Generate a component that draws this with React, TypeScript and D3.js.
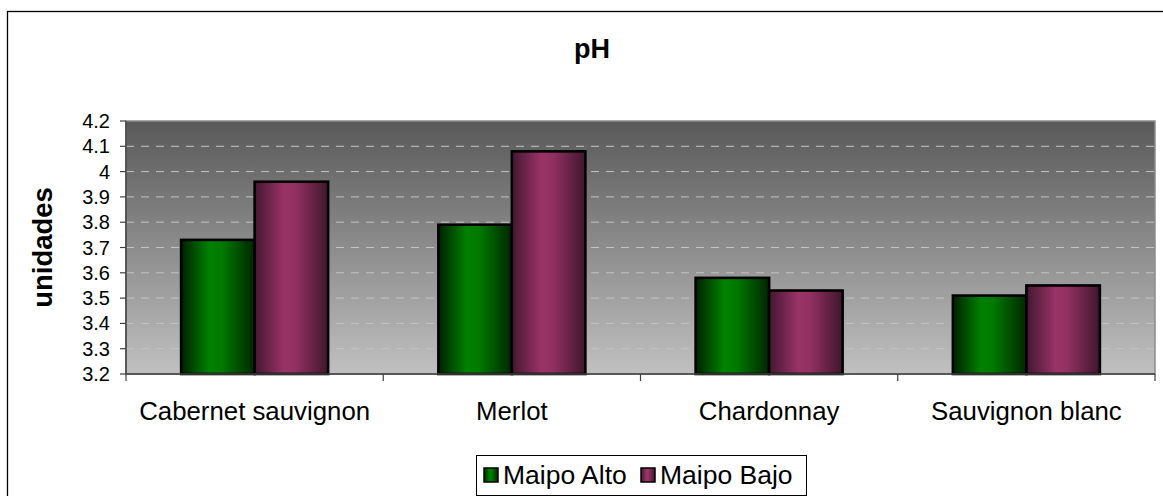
import React, { useRef, useEffect } from 'react';
import { select, scaleBand, scaleLinear } from 'd3';

// chart data
const categories = ['Cabernet sauvignon', 'Merlot', 'Chardonnay', 'Sauvignon blanc'];
const seriesNames = ['Maipo Alto', 'Maipo Bajo'];
const maipoAlto = [3.73, 3.79, 3.58, 3.51];
const maipoBajo = [3.96, 4.08, 3.53, 3.55];
const yTicks = [3.2, 3.3, 3.4, 3.5, 3.6, 3.7, 3.8, 3.9, 4.0, 4.1, 4.2];
const chartTitle = 'pH';
const yTitle = 'unidades';

const W = 1163;
const H = 496;
const plot = { left: 126, right: 1155, top: 121, bottom: 374 };
const FONT = '"Liberation Sans", Arial, sans-serif';
const gradIds = ['gAlto', 'gBajo'];

const App = () => {
  const svgRef = useRef<SVGSVGElement>(null);

  useEffect(() => {
    const svg = select(svgRef.current);
    const x0 = scaleBand<string>().domain(categories).range([plot.left, plot.right]);
    const x1 = scaleBand<string>().domain(seriesNames).range([0, x0.step()]).paddingOuter(0.75);
    const y = scaleLinear().domain([3.2, 4.2]).range([plot.bottom, plot.top]);

    // grid lines (dashed)
    svg.select('.grid')
      .selectAll('line')
      .data(yTicks.slice(1, -1))
      .join('line')
      .attr('x1', plot.left)
      .attr('x2', plot.right)
      .attr('y1', d => y(d))
      .attr('y2', d => y(d))
      .attr('stroke', '#c4c4c4')
      .attr('stroke-width', 1)
      .attr('stroke-dasharray', '8 7');

    // bars
    const rows = categories.map((c, i) => ({ c, vals: [maipoAlto[i], maipoBajo[i]] }));
    svg.select('.bars')
      .selectAll('g')
      .data(rows)
      .join('g')
      .attr('transform', d => `translate(${x0(d.c)},0)`)
      .selectAll('rect')
      .data(d => d.vals.map((v, k) => ({ name: seriesNames[k], v, k })))
      .join('rect')
      .attr('x', d => x1(d.name)!)
      .attr('width', x1.bandwidth())
      .attr('y', d => y(d.v))
      .attr('height', d => plot.bottom - y(d.v))
      .attr('fill', d => `url(#${gradIds[d.k]})`)
      .attr('stroke', '#000')
      .attr('stroke-width', 2.6);

    // y axis
    const yAx = svg.select('.y-axis');
    yAx.selectAll('line.tick')
      .data(yTicks)
      .join('line')
      .attr('class', 'tick')
      .attr('x1', plot.left - 6)
      .attr('x2', plot.left)
      .attr('y1', d => y(d))
      .attr('y2', d => y(d))
      .attr('stroke', '#404040')
      .attr('stroke-width', 1.2);
    yAx.selectAll('text')
      .data(yTicks)
      .join('text')
      .attr('x', plot.left - 16)
      .attr('y', d => y(d))
      .attr('dy', '0.35em')
      .attr('text-anchor', 'end')
      .attr('font-size', 20)
      .attr('font-family', FONT)
      .text(d => String(d));

    // x axis boundary ticks + labels
    const xAx = svg.select('.x-axis');
    xAx.selectAll('line.tick')
      .data([...categories.map(c => x0(c)!), plot.right])
      .join('line')
      .attr('class', 'tick')
      .attr('x1', d => d)
      .attr('x2', d => d)
      .attr('y1', plot.bottom)
      .attr('y2', plot.bottom + 7)
      .attr('stroke', '#404040')
      .attr('stroke-width', 1.2);
    xAx.selectAll('text')
      .data(categories)
      .join('text')
      .attr('x', d => x0(d)! + x0.bandwidth() / 2)
      .attr('y', 420)
      .attr('text-anchor', 'middle')
      .attr('font-size', 25.8)
      .attr('font-family', FONT)
      .text(d => d);
  }, []);

  const legendX = [484, 641];

  return (
    <svg
      ref={svgRef}
      width={W}
      height={H}
      style={{ position: 'absolute', left: 0, top: 0, background: '#fff' }}
    >
      <defs>
        <linearGradient id="bgGrad" x1="0" y1="0" x2="0" y2="1">
          <stop offset="0%" stopColor="#595959" />
          <stop offset="100%" stopColor="#c0c0c0" />
        </linearGradient>
        <linearGradient id="gAlto" x1="0" y1="0" x2="1" y2="0">
          <stop offset="0%" stopColor="#002000" />
          <stop offset="38%" stopColor="#008000" />
          <stop offset="55%" stopColor="#007a00" />
          <stop offset="100%" stopColor="#002600" />
        </linearGradient>
        <linearGradient id="gBajo" x1="0" y1="0" x2="1" y2="0">
          <stop offset="0%" stopColor="#431830" />
          <stop offset="40%" stopColor="#993366" />
          <stop offset="55%" stopColor="#933162" />
          <stop offset="100%" stopColor="#40162d" />
        </linearGradient>
      </defs>

      {/* chart area border */}
      <rect x={7.5} y={11.5} width={1180} height={520} fill="#fff" stroke="#000" strokeWidth={1.3} />

      <text x={592} y={58} textAnchor="middle" fontFamily={FONT} fontWeight="bold" fontSize={27}>
        {chartTitle}
      </text>

      {/* plot area */}
      <rect
        x={plot.left}
        y={plot.top}
        width={plot.right - plot.left}
        height={plot.bottom - plot.top}
        fill="url(#bgGrad)"
        stroke="#8c8c8c"
        strokeWidth={1.5}
      />
      <g className="grid" />
      <g className="bars" />
      <line x1={plot.left} x2={plot.left} y1={plot.top} y2={plot.bottom} stroke="#404040" strokeWidth={1.5} />
      <line x1={plot.left} x2={plot.right} y1={plot.bottom} y2={plot.bottom} stroke="#404040" strokeWidth={1.5} />
      <g className="y-axis" />
      <g className="x-axis" />

      <text
        transform={`translate(52,${(plot.top + plot.bottom) / 2}) rotate(-90)`}
        textAnchor="middle"
        fontFamily={FONT}
        fontWeight="bold"
        fontSize={27.5}
      >
        {yTitle}
      </text>

      {/* legend */}
      <rect x={476.5} y={455.5} width={330} height={40} fill="#fff" stroke="#000" strokeWidth={1} />
      {seriesNames.map((s, i) => (
        <g key={s}>
          <rect
            x={legendX[i]}
            y={468}
            width={14}
            height={14}
            fill={`url(#${gradIds[i]})`}
            stroke="#000"
            strokeWidth={1.5}
          />
          <text x={legendX[i] + 19} y={484} fontFamily={FONT} fontSize={26.5}>
            {s}
          </text>
        </g>
      ))}
    </svg>
  );
};

export default App;
